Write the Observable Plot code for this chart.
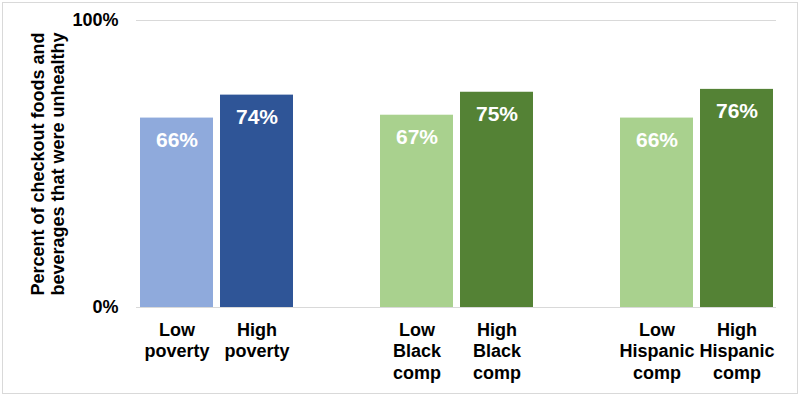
<!DOCTYPE html>
<html>
<head>
<meta charset="utf-8">
<script src="https://cdn.jsdelivr.net/npm/d3@7"></script>
<script src="https://cdn.jsdelivr.net/npm/@observablehq/plot@0.6"></script>
<style>
  html, body { margin: 0; padding: 0; background: #fff; }
  #chart svg { display: block; outline: 1px solid #d9d9d9; outline-offset: -3px; }
</style>
</head>
<body>
<div id="chart"></div>
<script>
// Data
const categories = ["Low\npoverty", "High\npoverty", "Low\nBlack\ncomp", "High\nBlack\ncomp", "Low\nHispanic\ncomp", "High\nHispanic\ncomp"];
const values = [66, 74, 67, 75, 66, 76];
const groups = ["poverty", "poverty", "black", "black", "hispanic", "hispanic"];
const yTicks = [0, 100];
const yLabel = "Percent of checkout foods and\nbeverages that were unhealthy";

const barColors = ["#8FAADC", "#2F5597", "#A9D18E", "#548235", "#A9D18E", "#548235"];

const data = categories.map((c, i) => ({ category: c, value: values[i], group: groups[i] }));
const xDomain = [categories[0], categories[1], "gap1", categories[2], categories[3], "gap2", categories[4], categories[5]];

const font = "'Liberation Sans', Arial, sans-serif";

const chart = Plot.plot({
  width: 800,
  height: 396,
  marginLeft: 136,
  marginRight: 24,
  marginTop: 20,
  marginBottom: 89,
  style: { fontFamily: font, background: "#fff" },
  x: { domain: xDomain, paddingInner: 0.0875, paddingOuter: 0.04375, axis: null },
  y: { domain: [0, 100], axis: null },
  color: { domain: categories, range: barColors },
  marks: [
    Plot.ruleY(yTicks, { stroke: "#d9d9d9", strokeWidth: 1 }),
    Plot.barY(data, { x: "category", y: "value", fill: "category" }),
    Plot.text(data, {
      x: "category", y: "value", text: d => d.value + "%",
      dy: 22, fill: "white", fontSize: 21, fontWeight: "bold"
    }),
    Plot.axisX({
      tickSize: 0, tickPadding: 13, fontSize: 18, fontWeight: "bold", fill: "#000",
      lineHeight: 1.2, tickFormat: d => d.startsWith("gap") ? "" : d, label: null
    }),
    Plot.axisY(yTicks, {
      tickSize: 0, tickPadding: 18, fontSize: 18, fontWeight: "bold", fill: "#000",
      tickFormat: d => d + "%", label: null
    }),
    Plot.text([yLabel], {
      frameAnchor: "left", dx: -89, rotate: -90, fontSize: 18, fontWeight: "bold",
      fill: "#000", lineHeight: 1.15, textAnchor: "middle"
    })
  ]
});

document.getElementById("chart").appendChild(chart);
</script>
</body>
</html>
